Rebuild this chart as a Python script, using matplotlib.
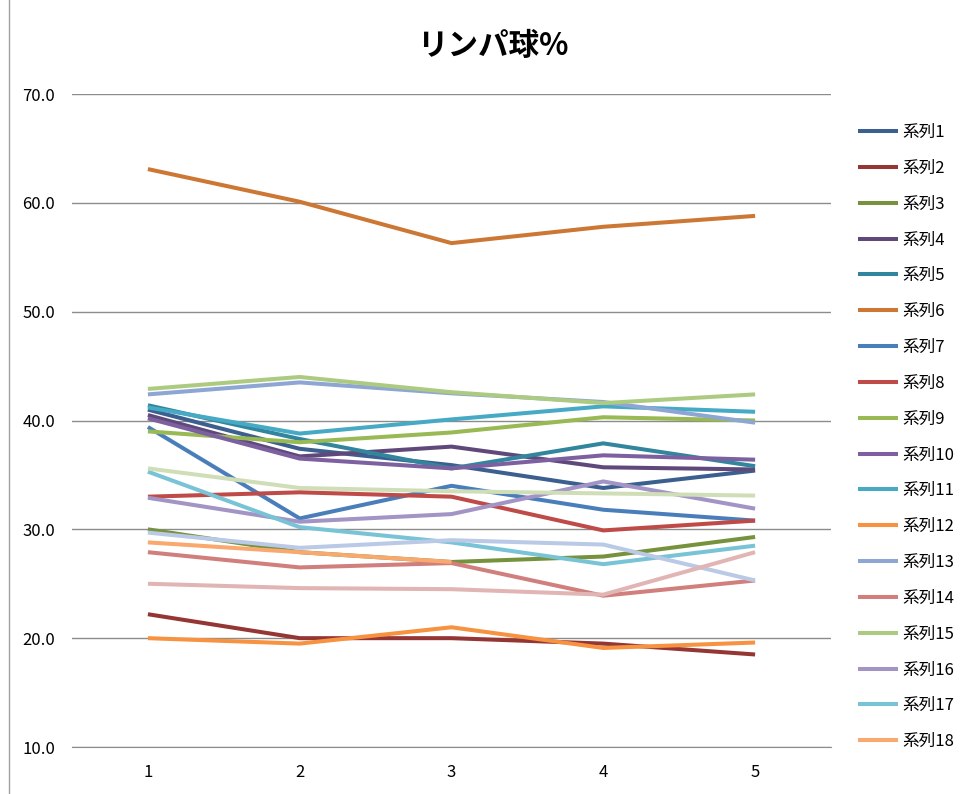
import matplotlib
matplotlib.use("Agg")
import matplotlib.pyplot as plt
import numpy as np

plt.rcParams['font.family'] = ['Noto Sans CJK JP', 'DejaVu Sans']

# ------------------------------
# Data
# ------------------------------
categories = [1, 2, 3, 4, 5]

s01 = [41.0, 37.4, 35.9, 33.8, 35.4]
s02 = [22.2, 20.0, 20.0, 19.5, 18.5]
s03 = [30.0, 27.9, 27.0, 27.5, 29.3]
s04 = [40.5, 36.7, 37.6, 35.7, 35.5]
s05 = [41.4, 38.3, 35.6, 37.9, 35.8]
s06 = [63.1, 60.1, 56.3, 57.8, 58.8]
s07 = [39.4, 31.0, 34.0, 31.8, 30.8]
s08 = [33.0, 33.4, 33.0, 29.9, 30.8]
s09 = [39.0, 38.0, 38.9, 40.3, 40.0]
s10 = [40.2, 36.5, 35.6, 36.8, 36.4]
s11 = [41.2, 38.8, 40.1, 41.3, 40.8]
s12 = [20.0, 19.5, 21.0, 19.1, 19.6]
s13 = [42.4, 43.5, 42.5, 41.7, 39.8]
s14 = [27.9, 26.5, 26.9, 23.9, 25.3]
s15 = [42.9, 44.0, 42.6, 41.6, 42.4]
s16 = [32.9, 30.7, 31.4, 34.4, 31.9]
s17 = [35.3, 30.2, 28.8, 26.8, 28.5]
s18 = [28.8, 27.9, 27.0, None, None]
s19 = [29.7, 28.3, 29.0, 28.6, 25.3]
s20 = [25.0, 24.6, 24.5, 24.0, 27.9]
s21 = [35.6, 33.8, 33.5, 33.3, 33.1]

series = [s01, s02, s03, s04, s05, s06, s07, s08, s09, s10, s11,
          s12, s13, s14, s15, s16, s17, s18, s19, s20, s21]
names = ['系列%d' % (i + 1) for i in range(len(series))]

colors = ['#3B5F8E', '#943634', '#76923C', '#5F497A', '#31859C', '#CD7734',
          '#4A7EBB', '#BE4B48', '#98B954', '#7D60A0', '#46AAC5', '#F69240',
          '#8DA6D4', '#D07F7D', '#ADCB80', '#A294C4', '#78C3D6', '#F9A86E',
          '#B9C9E6', '#E0B5B4', '#D0DEB8']

yticks = [10.0, 20.0, 30.0, 40.0, 50.0, 60.0, 70.0]

# ------------------------------
# Figure
# ------------------------------
W, H = 973, 794
fig = plt.figure(figsize=(W / 100, H / 100), dpi=100)
ax = fig.add_axes([72 / W, 1 - 747 / H, (831 - 72) / W, (747 - 94) / H])

# chart area border on the left edge
fig.add_artist(plt.Line2D([9 / W, 9 / W], [0, 1], color='#A0A0A0', lw=1))

handles = []
for vals, name, c in zip(series, names, colors):
    y = np.array([np.nan if v is None else v for v in vals], dtype=float)
    h, = ax.plot(categories, y, color=c, lw=2.9, solid_joinstyle='round',
                 solid_capstyle='butt', label=name)
    handles.append(h)

ax.set_xlim(0.5, 5.5)
ax.set_ylim(10, 70)
ax.set_yticks(yticks)
ax.set_yticklabels(['%.1f' % v for v in yticks])
ax.set_xticks(categories)
ax.yaxis.grid(True, color='#8C8C8C', lw=1)
ax.set_axisbelow(True)
for side in ['top', 'right', 'left']:
    ax.spines[side].set_visible(False)
ax.spines['bottom'].set_color('#8C8C8C')
ax.tick_params(axis='both', length=0, labelsize=12, colors='#000000')
ax.tick_params(axis='y', pad=12)
ax.tick_params(axis='x', pad=12)

fig.text(493 / W, 1 - 46 / H, 'リンパ球%', ha='center', va='center',
         fontsize=22, fontweight='bold')

# legend shows first 18 entries only
fig.legend(handles[:18], names[:18], loc='upper left',
           bbox_to_anchor=(843 / W, 1 - 109 / H), frameon=False,
           fontsize=12, handlelength=2.4, handletextpad=0.25,
           labelspacing=1.13)

fig.savefig('out.png', dpi=100)
